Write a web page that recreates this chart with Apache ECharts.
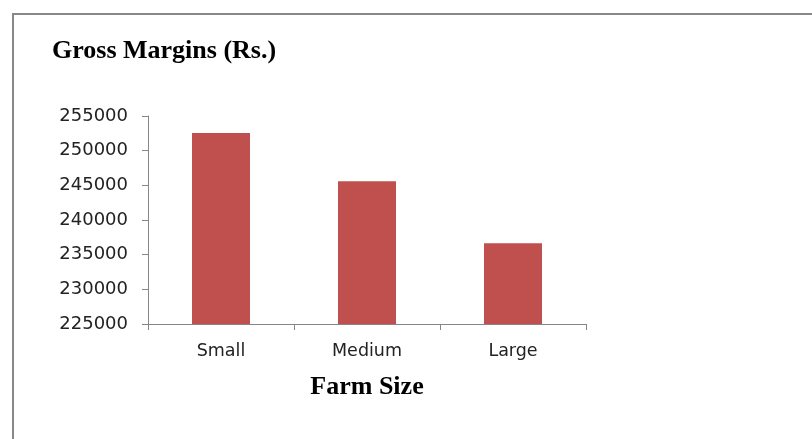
<!DOCTYPE html>
<html>
<head>
<meta charset="utf-8">
<script src="https://cdn.jsdelivr.net/npm/echarts@6/dist/echarts.min.js"></script>
<style>
  html, body { margin: 0; padding: 0; background: #fff; }
  #chart { width: 812px; height: 439px; }
</style>
</head>
<body>
<div id="chart"></div>
<script>
// data
const farmSizes = ['Small', 'Medium', 'Large'];
const grossMargins = [252550, 245600, 236650];

const myChart = echarts.init(document.getElementById('chart'));

const option = {
    animation: false,
    title: {
        text: 'Gross Margins (Rs.)',
        left: 47,
        top: 33,
        textStyle: {
            fontFamily: 'Liberation Serif',
            fontWeight: 'bold',
            fontSize: 26,
            color: '#000'
        }
    },
    graphic: [{
        type: 'rect',
        shape: { x: 13, y: 14, width: 830, height: 460 },
        style: { fill: 'none', stroke: '#888', lineWidth: 2 },
        silent: true
    }],
    grid: {
        left: 148,
        right: 226,
        top: 116,
        bottom: 115
    },
    xAxis: {
        type: 'category',
        data: farmSizes,
        name: 'Farm Size',
        nameLocation: 'middle',
        nameGap: 50,
        nameTextStyle: {
            fontFamily: 'Liberation Serif',
            fontWeight: 'bold',
            fontSize: 26,
            color: '#000'
        },
        axisLine: { lineStyle: { color: '#868686', width: 1 } },
        axisTick: { show: true, length: 6, lineStyle: { color: '#868686' } },
        axisLabel: {
            margin: 18,
            fontFamily: 'DejaVu Sans',
            fontSize: 17.5,
            color: '#222'
        }
    },
    yAxis: {
        type: 'value',
        min: 225000,
        max: 255000,
        interval: 5000,
        axisLine: { show: true, lineStyle: { color: '#868686', width: 1 } },
        axisTick: { show: true, length: 6, lineStyle: { color: '#868686' } },
        splitLine: { show: false },
        axisLabel: {
            margin: 20,
            formatter: function (v) { return String(v); },
            fontFamily: 'DejaVu Sans',
            fontSize: 18,
            color: '#222'
        }
    },
    series: [{
        type: 'bar',
        data: grossMargins,
        barWidth: 58,
        itemStyle: { color: '#C0504D' }
    }]
};

myChart.setOption(option);
</script>
</body>
</html>
